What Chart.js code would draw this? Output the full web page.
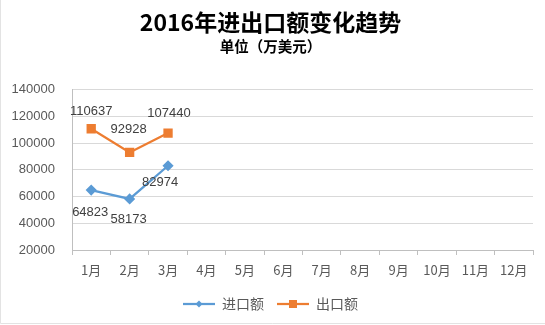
<!DOCTYPE html>
<html>
<head>
<meta charset="utf-8">
<script src="https://cdn.jsdelivr.net/npm/chart.js@4"></script>
<style>
  html, body { margin: 0; padding: 0; background: #fff; }
  #wrap { width: 545px; height: 325px; }
</style>
</head>
<body>
<div id="wrap"><canvas id="chart"></canvas></div>
<script>
// Chart data
const months = ["1月", "2月", "3月", "4月", "5月", "6月", "7月", "8月", "9月", "10月", "11月", "12月"];
const importValues = [64823, 58173, 82974];
const exportValues = [110637, 92928, 107440];
const yTicks = [20000, 40000, 60000, 80000, 100000, 120000, 140000];

const BLUE = '#5B9BD5';
const ORANGE = '#ED7D31';
const FONT = "'Noto Sans CJK SC', 'Liberation Sans', sans-serif";

// legend marker: short line with the point marker in the middle
function legendMarker(color, shape) {
    const c = document.createElement('canvas');
    c.width = 32; c.height = 10;
    const g = c.getContext('2d');
    g.strokeStyle = color;
    g.lineWidth = 2.25;
    g.beginPath(); g.moveTo(0, 5); g.lineTo(32, 5); g.stroke();
    g.fillStyle = color;
    g.beginPath();
    if (shape === 'diamond') {
        g.moveTo(16, 1.5); g.lineTo(19.5, 5); g.lineTo(16, 8.5); g.lineTo(12.5, 5);
    } else {
        g.rect(12, 1, 8, 8);
    }
    g.fill();
    return c;
}

// value labels next to the points (offsets in px from each point)
const valueLabels = {
    id: 'valueLabels',
    afterDatasetsDraw(chart, args, opts) {
        const ctx = chart.ctx;
        ctx.save();
        ctx.font = "13px 'Liberation Sans', sans-serif";
        ctx.fillStyle = '#404040';
        ctx.textAlign = 'center';
        ctx.textBaseline = 'middle';
        chart.data.datasets.forEach((ds, i) => {
            const meta = chart.getDatasetMeta(i);
            const offs = opts.offsets[i];
            meta.data.forEach((pt, j) => {
                const o = offs[j];
                ctx.fillText(String(ds.data[j]), pt.x + o[0], pt.y + o[1]);
            });
        });
        ctx.restore();
    }
};

// faint frame on the left and bottom edges
const frame = {
    id: 'frame',
    afterDraw(chart) {
        const ctx = chart.ctx;
        ctx.save();
        ctx.strokeStyle = '#e3e3e3';
        ctx.lineWidth = 1;
        ctx.beginPath();
        ctx.moveTo(0.5, 0);
        ctx.lineTo(0.5, 323.5);
        ctx.lineTo(chart.width, 323.5);
        ctx.stroke();
        ctx.restore();
    }
};

new Chart(document.getElementById('chart'), {
    type: 'line',
    data: {
        labels: months,
        datasets: [
            {
                label: '进口额',
                data: importValues,
                borderColor: BLUE,
                backgroundColor: BLUE,
                borderWidth: 2.25,
                pointStyle: 'rectRot',
                pointRadius: 4,
                pointHoverRadius: 4,
                tension: 0
            },
            {
                label: '出口额',
                data: exportValues,
                borderColor: ORANGE,
                backgroundColor: ORANGE,
                borderWidth: 2.25,
                pointStyle: 'rect',
                pointRadius: 5,
                pointHoverRadius: 5,
                tension: 0
            }
        ]
    },
    options: {
        responsive: true,
        maintainAspectRatio: false,
        animation: false,
        layout: { padding: { left: 8, right: 12, bottom: 4 } },
        plugins: {
            title: {
                display: true,
                text: '2016年进出口额变化趋势',
                color: '#000',
                font: { family: FONT, size: 23, weight: 'bold' },
                padding: { top: 8, bottom: 2.5 }
            },
            subtitle: {
                display: true,
                text: '单位（万美元）',
                color: '#000',
                font: { family: FONT, size: 14.5, weight: 'bold' },
                padding: { bottom: 34 }
            },
            legend: {
                position: 'bottom',
                labels: {
                    color: '#595959',
                    font: { family: FONT, size: 14 },
                    usePointStyle: true,
                    pointStyleWidth: 32,
                    padding: 13,
                    generateLabels(chart) {
                        return chart.data.datasets.map((ds, i) => ({
                            text: ds.label,
                            datasetIndex: i,
                            fontColor: '#595959',
                            pointStyle: legendMarker(ds.borderColor, i === 0 ? 'diamond' : 'square'),
                            lineWidth: 0,
                            strokeStyle: 'transparent',
                            fillStyle: ds.borderColor
                        }));
                    }
                }
            },
            tooltip: { enabled: false },
            valueLabels: {
                offsets: [
                    [[-1, 22], [-1, 20], [-8, 17]],
                    [[0, -17], [-1, -23], [1, -20]]
                ]
            }
        },
        scales: {
            x: {
                offset: true,
                afterFit(axis) { axis.height = 34; },
                grid: {
                    offset: true,
                    drawOnChartArea: false,
                    drawTicks: true,
                    tickLength: 5,
                    color: '#bfbfbf'
                },
                border: { color: '#bfbfbf', width: 1 },
                ticks: {
                    color: '#595959',
                    font: { family: FONT, size: 13 },
                    padding: 7,
                    maxRotation: 0,
                    autoSkip: false
                }
            },
            y: {
                min: 20000,
                max: 140000,
                afterBuildTicks(axis) {
                    axis.ticks = yTicks.map(v => ({ value: v }));
                },
                afterFit(axis) { axis.width = 64; },
                grid: { color: '#d9d9d9', drawTicks: false },
                border: { color: '#bfbfbf', width: 1 },
                ticks: {
                    color: '#595959',
                    font: { family: "'Liberation Sans', sans-serif", size: 13 },
                    padding: 17,
                    callback: v => String(v)
                }
            }
        }
    },
    plugins: [valueLabels, frame]
});
</script>
</body>
</html>
